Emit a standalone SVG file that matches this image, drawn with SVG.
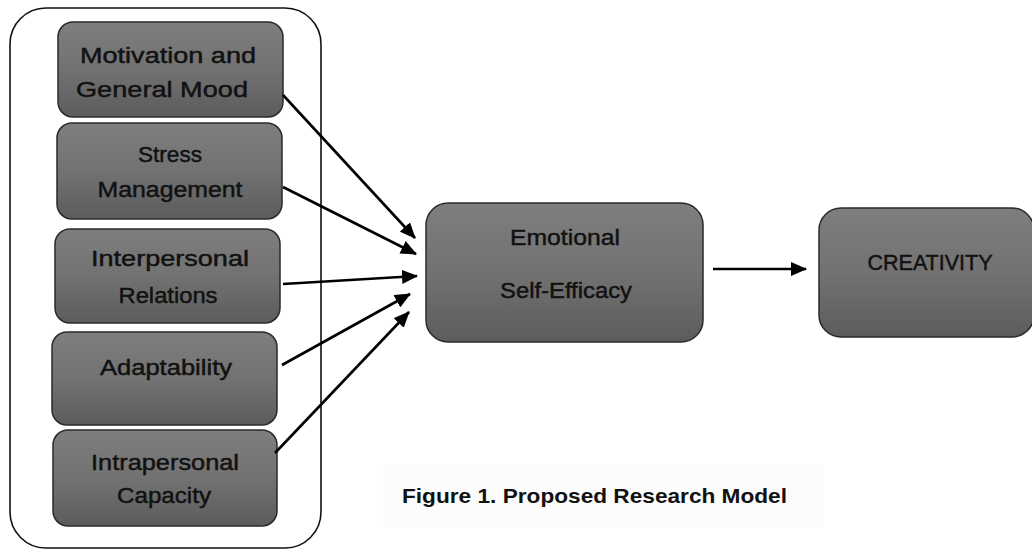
<svg xmlns="http://www.w3.org/2000/svg" width="1032" height="553" viewBox="0 0 1032 553">
<defs>
<linearGradient id="g" x1="0" y1="0" x2="0" y2="1">
<stop offset="0" stop-color="#7e7e7e"/>
<stop offset="0.5" stop-color="#727272"/>
<stop offset="1" stop-color="#5c5c5c"/>
</linearGradient>
<marker id="ah" markerUnits="userSpaceOnUse" markerWidth="16" markerHeight="14" refX="15" refY="7" orient="auto">
<path d="M0,0 L16,7 L0,14 Z" fill="#000"/>
</marker>
<style>
.box{fill:url(#g);stroke:#2a2a2a;stroke-width:1.5}
.t{font-family:"Liberation Sans",Arial,sans-serif;font-size:22px;fill:#111;stroke:#111;stroke-width:0.45;text-anchor:middle}
.c{stroke:#000;stroke-width:2.6;fill:none;marker-end:url(#ah)}
</style>
</defs>
<rect width="1032" height="553" fill="#fff"/>
<g id="container">
<rect x="10" y="8" width="311" height="540" rx="36" fill="none" stroke="#111" stroke-width="1.6"/>
</g>
<g id="n-motivation">
<rect class="box" x="58" y="22" width="225" height="95" rx="15"/>
<text class="t" x="168" y="63" textLength="176" lengthAdjust="spacingAndGlyphs">Motivation and</text>
<text class="t" x="162" y="97" textLength="172" lengthAdjust="spacingAndGlyphs">General Mood</text>
</g>
<g id="n-stress">
<rect class="box" x="57" y="123" width="225" height="96" rx="15"/>
<text class="t" x="170" y="162" textLength="64" lengthAdjust="spacingAndGlyphs">Stress</text>
<text class="t" x="170" y="197" textLength="145" lengthAdjust="spacingAndGlyphs">Management</text>
</g>
<g id="n-interpersonal">
<rect class="box" x="55" y="229" width="225" height="94" rx="15"/>
<text class="t" x="170" y="266" textLength="158" lengthAdjust="spacingAndGlyphs">Interpersonal</text>
<text class="t" x="168" y="303" textLength="99" lengthAdjust="spacingAndGlyphs">Relations</text>
</g>
<g id="n-adaptability">
<rect class="box" x="52" y="332" width="225" height="93" rx="15"/>
<text class="t" x="166" y="375" textLength="132" lengthAdjust="spacingAndGlyphs">Adaptability</text>
</g>
<g id="n-intrapersonal">
<rect class="box" x="53" y="430" width="224" height="96" rx="15"/>
<text class="t" x="165" y="470" textLength="148" lengthAdjust="spacingAndGlyphs">Intrapersonal</text>
<text class="t" x="164" y="503" textLength="94" lengthAdjust="spacingAndGlyphs">Capacity</text>
</g>
<g id="n-ese">
<rect class="box" x="426" y="203" width="277" height="139" rx="22"/>
<text class="t" x="565" y="245" textLength="110" lengthAdjust="spacingAndGlyphs">Emotional</text>
<text class="t" x="566" y="298" textLength="132" lengthAdjust="spacingAndGlyphs">Self-Efficacy</text>
</g>
<g id="n-creativity">
<rect class="box" x="819" y="208" width="215" height="129" rx="22"/>
<text class="t" x="930" y="270" textLength="125" lengthAdjust="spacingAndGlyphs">CREATIVITY</text>
</g>
<g id="connectors">
<line class="c" x1="283" y1="95" x2="415" y2="238"/>
<line class="c" x1="283" y1="187" x2="416" y2="254"/>
<line class="c" x1="283" y1="284" x2="417" y2="276"/>
<line class="c" x1="282" y1="365" x2="410" y2="294"/>
<line class="c" x1="275" y1="453" x2="409" y2="312"/>
<line class="c" x1="713" y1="269" x2="806" y2="269"/>
</g>
<g id="caption">
<rect x="383" y="465" width="440" height="62" fill="#fcfcfc"/>
<text x="402" y="503" font-family="'Liberation Sans',Arial,sans-serif" font-size="21" font-weight="bold" fill="#111" textLength="385" lengthAdjust="spacingAndGlyphs">Figure 1. Proposed Research Model</text>
</g>
</svg>
